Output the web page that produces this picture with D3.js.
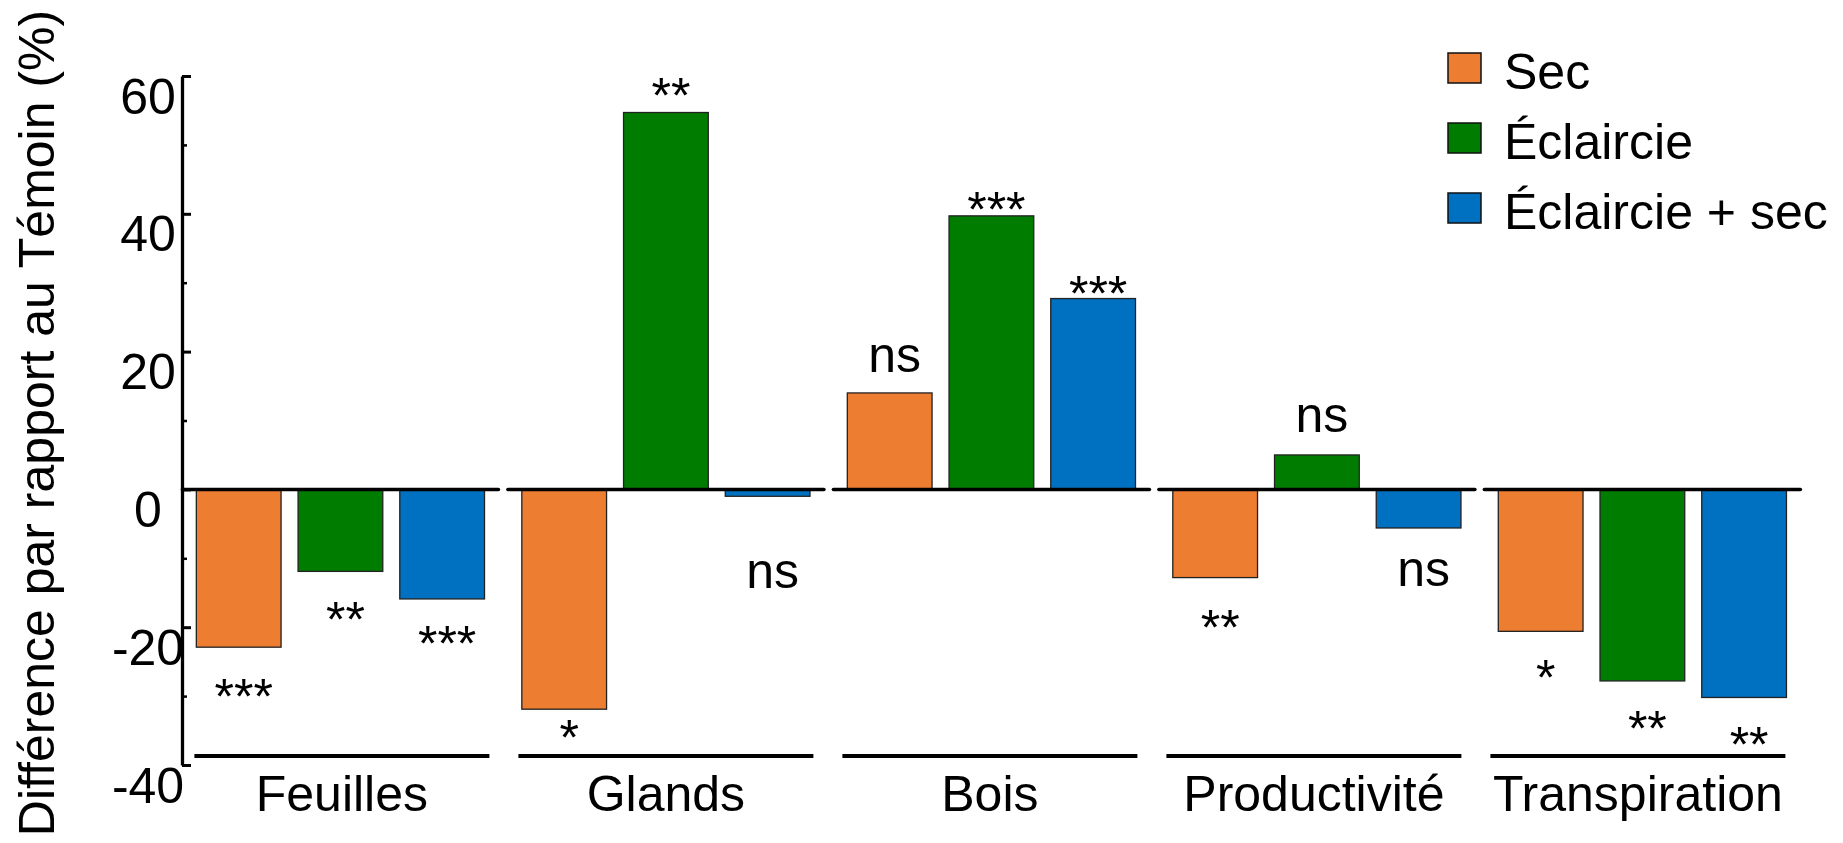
<!DOCTYPE html>
<html>
<head>
<meta charset="utf-8">
<script src="https://cdn.jsdelivr.net/npm/d3@7"></script>
<style>
  html, body { margin: 0; padding: 0; background: #fff; }
  svg { display: block; font-family: "Liberation Sans", Arial, sans-serif; }
</style>
</head>
<body>
<svg id="chart" width="1843" height="843"></svg>
<script>
// ---- data ----
const categories = ["Feuilles", "Glands", "Bois", "Productivité", "Transpiration"];
const seriesNames = ["Sec", "Éclaircie", "Éclaircie + sec"];
const seriesColors = ["#ED7D31", "#007D00", "#0070C0"];

const sec          = [-22.9, -31.9, 14.0, -12.8, -20.6];
const eclaircie    = [-11.9, 54.7, 39.7, 5.0, -27.8];
const eclaircieSec = [-15.9, -1.0, 27.7, -5.6, -30.2];

// significance labels and their anchor value (baseline, in % units)
const sigSec          = ["***", "*", "ns", "**", "*"];
const sigSecPos       = [-32.6, -38.6, 17.1, -22.6, -29.9];
const sigEclaircie    = ["**", "**", "***", "ns", "**"];
const sigEclairciePos = [-21.4, 54.7, 38.1, 8.3, -37.2];
const sigEclSec       = ["***", "ns", "***", "ns", "**"];
const sigEclSecPos    = [-24.9, -14.3, 25.9, -14.0, -39.6];

const yMajorTicks = [60, 40, 20, 0, -20, -40];
const yTickLabels = ["60", "40", "20", "0", "-20", "-40"];
const yMinorTicks = [50, 30, 10, -10, -30];
const yLabel = "Différence par rapport au Témoin (%)";

// ---- build table ----
const seriesValues = [sec, eclaircie, eclaircieSec];
const seriesSig = [sigSec, sigEclaircie, sigEclSec];
const seriesSigPos = [sigSecPos, sigEclairciePos, sigEclSecPos];
const rows = [];
categories.forEach((c, ci) => {
  seriesNames.forEach((s, si) => {
    rows.push({cat: c, ser: s, si, value: seriesValues[si][ci], sig: seriesSig[si][ci], sigPos: seriesSigPos[si][ci]});
  });
});

const svg = d3.select("#chart");
const FS = 50;

// ---- scales ----
const y = d3.scaleLinear().domain([-40, 60]).range([765, 76]);
const xPanel = d3.scaleBand().domain(categories).range([182.4, 1800.4]).paddingInner(0.029).paddingOuter(0);
const xInner = d3.scaleBand().domain(seriesNames).range([0, xPanel.bandwidth()]).paddingInner(0.167).paddingOuter(0.137);
const xLine = d3.scaleBand().domain(categories).range([194.4, 1785.4]).paddingInner(0.0895).paddingOuter(0);
const color = d3.scaleOrdinal().domain(seriesNames).range(seriesColors);

// ---- bars ----
svg.append("g").selectAll("rect").data(rows).join("rect")
  .attr("x", d => xPanel(d.cat) + xInner(d.ser))
  .attr("width", xInner.bandwidth())
  .attr("y", d => y(Math.max(0, d.value)))
  .attr("height", d => Math.abs(y(d.value) - y(0)))
  .attr("fill", d => color(d.ser))
  .attr("stroke", "#222")
  .attr("stroke-width", 1.3);

// ---- zero line segments per panel ----
svg.append("g").selectAll("line").data(categories).join("line")
  .attr("x1", d => xPanel(d))
  .attr("x2", d => xPanel(d) + xPanel.bandwidth())
  .attr("y1", y(0)).attr("y2", y(0))
  .attr("stroke", "#000").attr("stroke-width", 3.5).attr("stroke-linecap", "round");

// ---- y axis ----
const yAxis = d3.axisLeft(y).tickValues(yMajorTicks)
  .tickFormat((d, i) => yTickLabels[i])
  .tickSize(-9).tickSizeOuter(0).tickPadding(0);
const gy = svg.append("g").attr("transform", "translate(182,0)").call(yAxis);
gy.select(".domain").attr("stroke-width", 3.3);
gy.selectAll(".tick line").attr("stroke-width", 3);
gy.selectAll(".tick text")
  .attr("x", -34).attr("dy", null).attr("y", 37)
  .attr("text-anchor", "middle")
  .style("font-size", FS + "px").style("font-family", '"Liberation Sans", Arial, sans-serif')
  .attr("fill", "#000");

const yMinor = d3.axisLeft(y).tickValues(yMinorTicks).tickSize(-5).tickSizeOuter(0).tickFormat("");
const gm = svg.append("g").attr("transform", "translate(182,0)").call(yMinor);
gm.select(".domain").remove();
gm.selectAll(".tick line").attr("stroke-width", 2.5);

// ---- y label ----
svg.append("text")
  .attr("transform", "translate(54,423) rotate(-90)")
  .attr("text-anchor", "middle")
  .style("font-size", FS + "px")
  .text(yLabel);

// ---- bottom category lines and labels ----
svg.append("g").selectAll("line").data(categories).join("line")
  .attr("x1", d => xLine(d))
  .attr("x2", d => xLine(d) + xLine.bandwidth())
  .attr("y1", 756).attr("y2", 756)
  .attr("stroke", "#000").attr("stroke-width", 4);

svg.append("g").selectAll("text").data(categories).join("text")
  .attr("x", d => xLine(d) + xLine.bandwidth() / 2)
  .attr("y", 811)
  .attr("text-anchor", "middle")
  .style("font-size", FS + "px")
  .text(d => d);

// ---- significance labels ----
svg.append("g").selectAll("text").data(rows).join("text")
  .attr("x", d => xPanel(d.cat) + xInner(d.ser) + xInner.bandwidth() / 2 + 5)
  .attr("y", d => y(d.sigPos))
  .attr("text-anchor", "middle")
  .style("font-size", FS + "px")
  .text(d => d.sig);

// ---- legend ----
const lg = svg.append("g").selectAll("g").data(seriesNames).join("g")
  .attr("transform", (d, i) => `translate(1448,${89 + i * 70})`);
lg.append("rect")
  .attr("x", 0).attr("y", -36).attr("width", 33).attr("height", 30)
  .attr("fill", d => color(d)).attr("stroke", "#111").attr("stroke-width", 1.5);
lg.append("text")
  .attr("x", 56).attr("y", 0)
  .style("font-size", FS + "px")
  .text(d => d);
</script>
</body>
</html>
